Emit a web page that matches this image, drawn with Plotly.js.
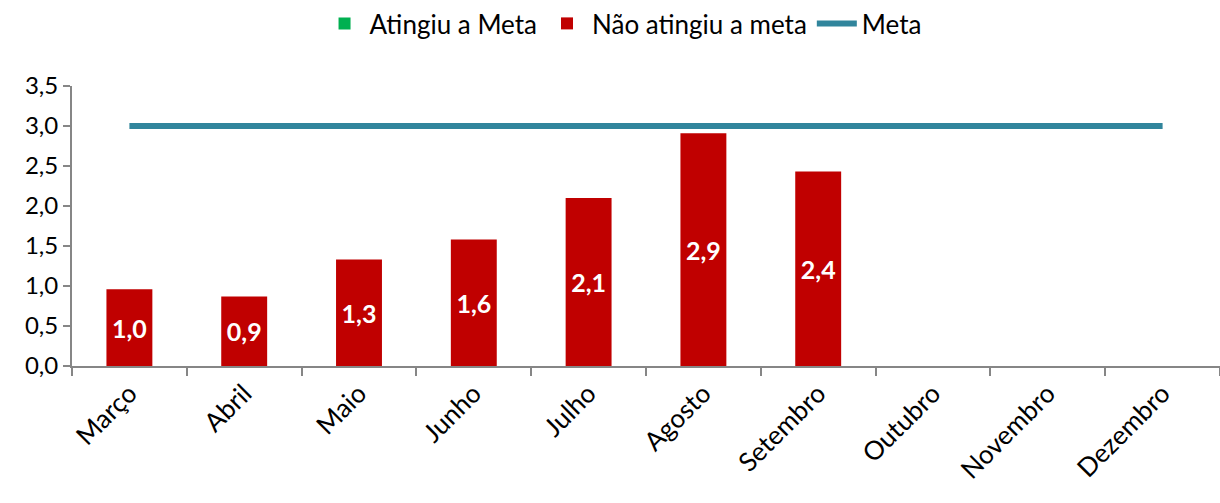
<!DOCTYPE html>
<html>
<head>
<meta charset="utf-8">
<script src="https://cdn.plot.ly/plotly-3.0.1.min.js"></script>
<style>html,body{margin:0;padding:0;background:#fff;}#chart{width:1220px;height:503px;}</style>
</head>
<body>
<div id="chart"></div>
<script>
const months = ["Março","Abril","Maio","Junho","Julho","Agosto","Setembro","Outubro","Novembro","Dezembro"];
const naoAtingiu = [0.96,0.87,1.33,1.58,2.10,2.91,2.43,null,null,null];
const atingiu = [null,null,null,null,null,null,null,null,null,null];
const meta = [3,3,3,3,3,3,3,3,3,3];
const yTicks = [0,0.5,1,1.5,2,2.5,3,3.5];
const yTickText = ["0,0","0,5","1,0","1,5","2,0","2,5","3,0","3,5"];

const fmt = v => v == null ? "" : (Math.round(v * 10) / 10).toFixed(1).replace(".", ",");
const font = "Lato, 'Open Sans', sans-serif";

const traces = [
  {type:"bar", name:"Atingiu a Meta", x:months, y:atingiu, marker:{color:"#00B050"}, width:0.4, hoverinfo:"skip"},
  {type:"bar", name:"Não atingiu a meta", x:months, y:naoAtingiu, marker:{color:"#C00000"}, width:0.4,
   text:naoAtingiu.map(fmt), textposition:"inside", insidetextanchor:"middle", textangle:0,
   textfont:{family:font, size:25, color:"#FFFFFF", weight:"bold"}, cliponaxis:false},
  {type:"scatter", mode:"lines", name:"Meta", x:months, y:meta, line:{color:"#31859C", width:6}}
];

const layout = {
  width:1220, height:503,
  margin:{l:72, r:0, t:85, b:137},
  paper_bgcolor:"#fff", plot_bgcolor:"#fff",
  barmode:"overlay",
  font:{family:font, size:22, color:"#000"},
  showlegend:true,
  legend:{orientation:"h", x:0.48, xanchor:"center", y:1.224, yanchor:"middle",
          font:{family:font, size:26, color:"#000"}, traceorder:"normal", itemwidth:40},
  xaxis:{type:"category", range:[-0.5,9.5], showgrid:false, zeroline:false,
         showline:true, linecolor:"#868686", linewidth:2,
         ticks:"outside", tickson:"boundaries", ticklen:8, tickcolor:"#868686", tickwidth:2,
         tickangle:-45, tickfont:{family:font, size:26, color:"#000"}},
  yaxis:{range:[0,3.5], tickvals:yTicks, ticktext:yTickText, showgrid:false, zeroline:false,
         showline:true, linecolor:"#868686", linewidth:2,
         ticks:"outside", ticklen:7, tickcolor:"#868686", tickwidth:2,
         tickfont:{family:font, size:24, color:"#000"}}
};

Plotly.newPlot("chart", traces, layout, {displayModeBar:false, staticPlot:true});
</script>
</body>
</html>
